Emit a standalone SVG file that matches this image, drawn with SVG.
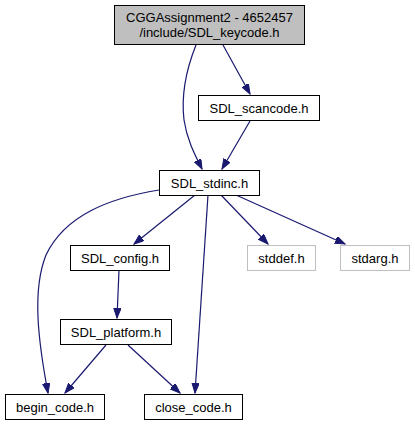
<svg xmlns="http://www.w3.org/2000/svg" width="415" height="425" viewBox="0 0 415 425">
<defs>
<marker id="ah" markerUnits="userSpaceOnUse" markerWidth="11" markerHeight="8" refX="10" refY="3.75" orient="auto">
<path d="M0,0 L10,3.75 L0,7.5 z" fill="#191970" stroke="#191970" stroke-width="1"/>
</marker>
</defs>
<style>
.n rect{fill:#fff;stroke:#000;stroke-width:1}
.n.g rect{stroke:#bfbfbf}
.n.r rect{fill:#bfbfbf}
text{font-family:"Liberation Sans",Arial,sans-serif;font-size:13px;text-anchor:middle;fill:#000}
#edges path{fill:none;stroke:#191970;stroke-width:1.2;marker-end:url(#ah)}
</style>
<rect width="415" height="425" fill="#fff"/>
<g id="edges">
<path d="M196,45 C186,70 181,95 184,120 C187,140 195,155 202,169"/>
<path d="M223,45 L250,94"/>
<path d="M250,121 L222,169"/>
<path d="M159,190 C110,198 65,215 46,255 C32,290 38,340 48,393"/>
<path d="M195,195 L134,244"/>
<path d="M208,195 L195,393"/>
<path d="M221,195 L268,244"/>
<path d="M236,195 L345,244"/>
<path d="M119,270 L117,318"/>
<path d="M106,345 L65,393"/>
<path d="M128,345 L180,393"/>
</g>
<g id="node_keycode" class="n r"><rect x="114.5" y="5.5" width="190" height="39"/><text x="209.5" y="22">CGGAssignment2 - 4652457</text><text x="209.5" y="37">/include/SDL_keycode.h</text></g>
<g id="node_scancode" class="n"><rect x="198.5" y="95.5" width="121" height="25"/><text x="259" y="112.5">SDL_scancode.h</text></g>
<g id="node_stdinc" class="n"><rect x="159.5" y="170.5" width="100" height="25"/><text x="209.5" y="187.5">SDL_stdinc.h</text></g>
<g id="node_config" class="n"><rect x="70.5" y="245.5" width="99" height="25"/><text x="120" y="262.5">SDL_config.h</text></g>
<g id="node_stddef" class="n g"><rect x="247.5" y="245.5" width="68" height="25"/><text x="281.5" y="262.5">stddef.h</text></g>
<g id="node_stdarg" class="n g"><rect x="340.5" y="245.5" width="69" height="25"/><text x="375" y="262.5">stdarg.h</text></g>
<g id="node_platform" class="n"><rect x="60.5" y="319.5" width="111" height="25"/><text x="116" y="336.5">SDL_platform.h</text></g>
<g id="node_begin" class="n"><rect x="5.5" y="394.5" width="99" height="25"/><text x="55" y="411.5">begin_code.h</text></g>
<g id="node_close" class="n"><rect x="144.5" y="394.5" width="98" height="25"/><text x="193.5" y="411.5">close_code.h</text></g>
</svg>
